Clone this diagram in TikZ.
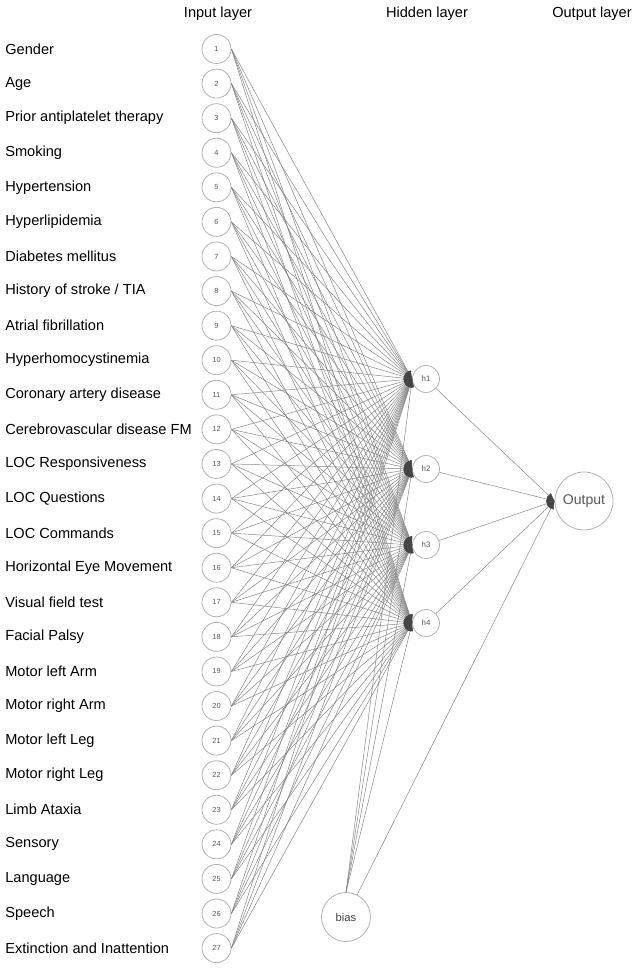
\documentclass[tikz,border=0pt]{standalone}
\usepackage{fontspec}
\setmainfont{Liberation Sans}
\usetikzlibrary{arrows.meta}

\definecolor{ringgray}{rgb}{0.7,0.7,0.7}
\definecolor{wiregray}{rgb}{0.52,0.52,0.52}
\definecolor{tipgray}{rgb}{0.27,0.27,0.27}

\begin{document}
\begin{tikzpicture}[x=0.02cm,y=-0.02cm,node font=\fontsize{8.3}{10}\selectfont,
	neuron/.style={circle,draw=ringgray,line width=0.45pt,fill=white,inner sep=0pt},
	innode/.style={neuron,minimum size=0.58cm,font=\fontsize{4.2}{5}\selectfont,text=black!65},
	hidnode/.style={neuron,minimum size=0.54cm,font=\fontsize{4.5}{5}\selectfont,text=black!65},
	wire/.style={draw=wiregray,line width=0.28pt,-{Latex[length=4.6pt,width=3.6pt,color=tipgray]}}]
	\useasboundingbox (0,0) rectangle (638,970);
	% layer titles
	\node (tin) at (218,14) {Input layer};
	\node (thid) at (427,14) {Hidden layer};
	\node (tout) at (592,14) {Output layer};
	% input layer
	\foreach \lbl [count=\i] in {Gender,Age,Prior antiplatelet therapy,Smoking,Hypertension,
		Hyperlipidemia,Diabetes mellitus,History of stroke / TIA,Atrial fibrillation,
		Hyperhomocystinemia,Coronary artery disease,Cerebrovascular disease FM,
		LOC Responsiveness,LOC Questions,LOC Commands,Horizontal Eye Movement,
		Visual field test,Facial Palsy,Motor left Arm,Motor right Arm,Motor left Leg,
		Motor right Leg,Limb Ataxia,Sensory,Language,Speech,Extinction and Inattention}{
		\node[innode] (in\i) at (216.5,{49+(\i-1)*34.58}) {\i};
		\node[anchor=west,inner sep=0pt] (lab\i) at (5,{49+(\i-1)*34.58}) {\lbl};
	}
	% hidden layer
	\node[hidnode] (h1) at (426,379) {h1};
	\node[hidnode] (h2) at (426,469) {h2};
	\node[hidnode] (h3) at (426,545) {h3};
	\node[hidnode] (h4) at (426,623) {h4};
	% output and bias
	\node[neuron,minimum size=1.16cm,font=\fontsize{8}{9}\selectfont,text=black!65] (out) at (584,501) {Output};
	\node[neuron,minimum size=0.98cm,font=\fontsize{6.4}{7}\selectfont,text=black!75] (bias) at (346,917) {bias};
	% connections
	\foreach \i in {1,...,27}{
		\foreach \j in {1,...,4}{
			\draw[wire] (in\i.east) -- (h\j.west);
		}
	}
	\foreach \j in {1,...,4}{
		\draw[wire] (bias.north) -- (h\j.west);
		\draw[wire] (h\j) -- (out.west);
	}
	\draw[wire] (bias) -- (out.west);
\end{tikzpicture}
\end{document}
